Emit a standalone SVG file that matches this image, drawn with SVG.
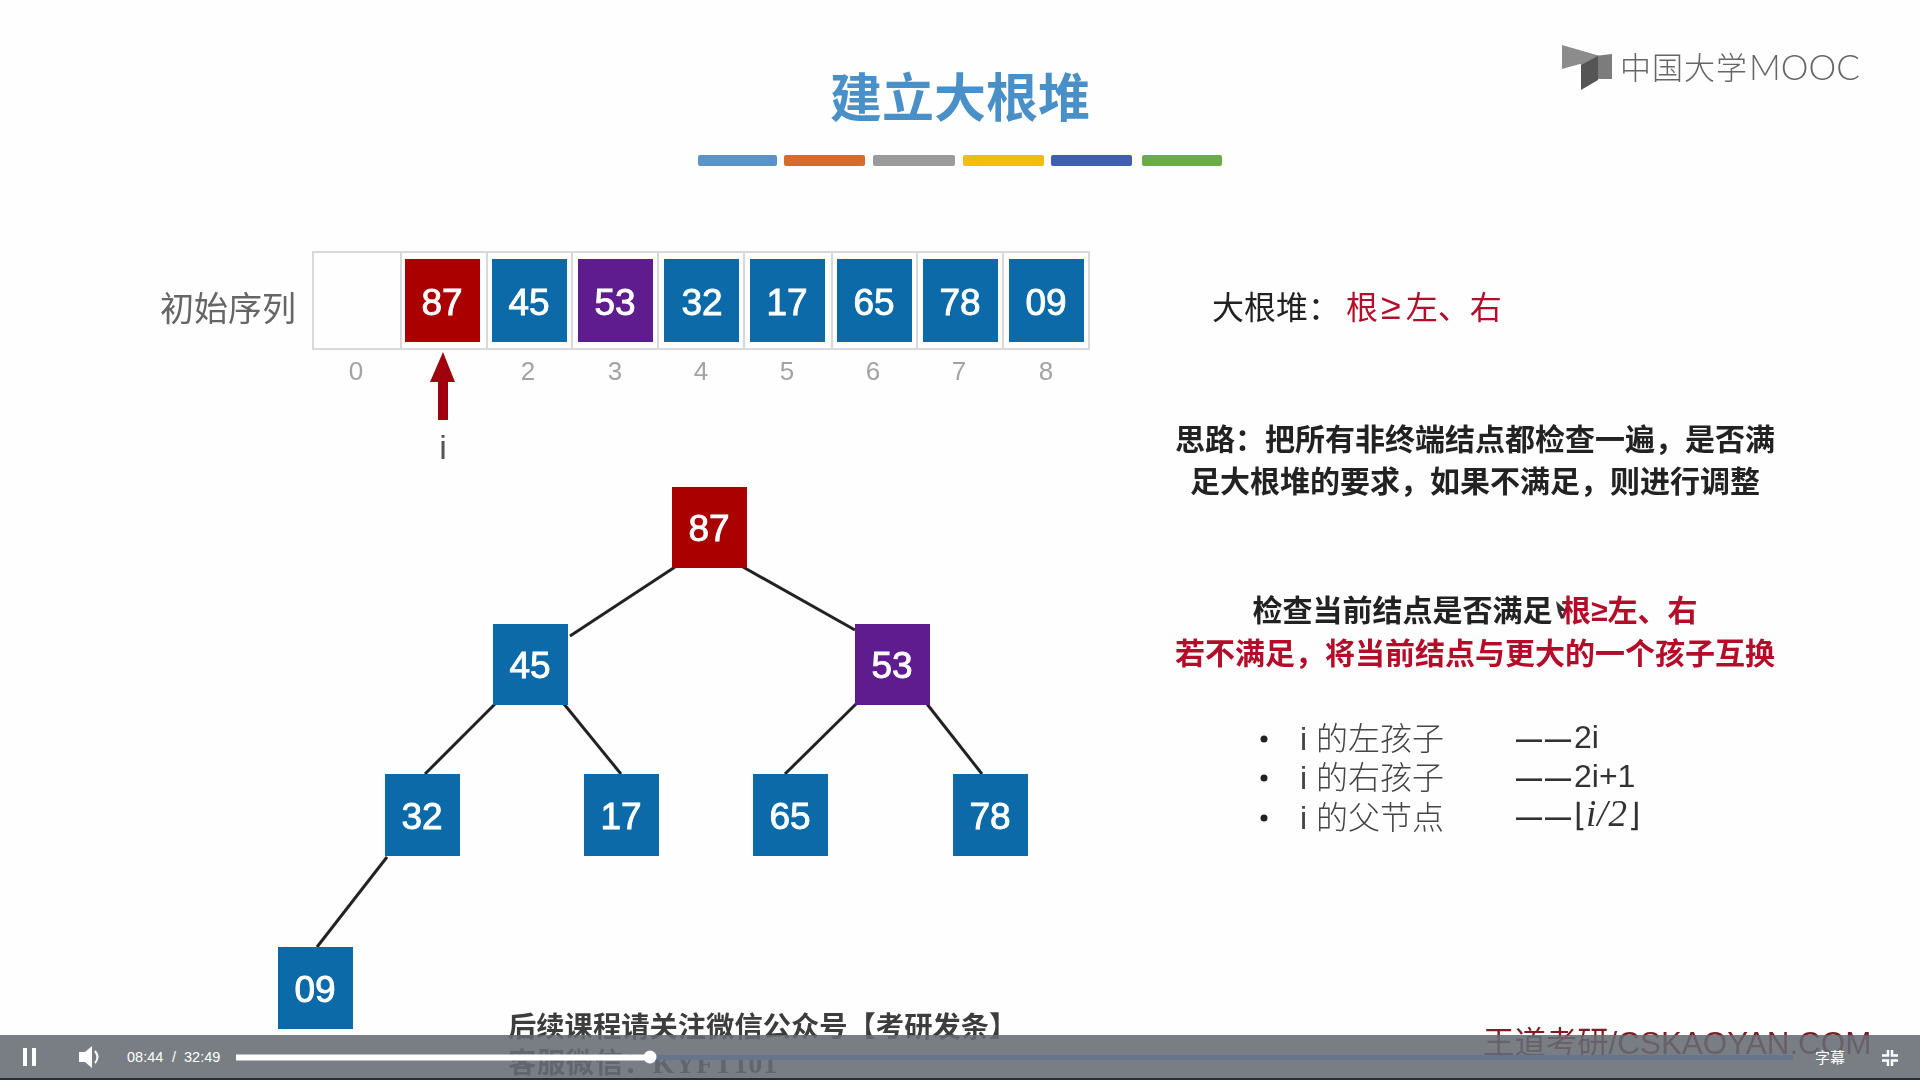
<svg xmlns="http://www.w3.org/2000/svg" width="1920" height="1080" viewBox="0 0 1920 1080">
<style>
text{font-family:"Liberation Sans","Noto Sans CJK SC",sans-serif}
.cjk{font-family:"Noto Sans CJK SC",sans-serif}
.n{fill:#fff;font-size:37px;text-anchor:middle;dominant-baseline:central;stroke:#fff;stroke-width:.9}
.red{fill:#ab0000}.blue{fill:#0a6aa8}.purple{fill:#5f1c8e}
.cell{fill:none;stroke:#d9d9d9;stroke-width:2}
.idx{fill:#a3a3a3;font-size:26px;text-anchor:middle}
.edge{stroke:#222;stroke-width:3;fill:none}
.b{font-size:30px;font-weight:700;text-anchor:middle;fill:#222}
.rt{fill:#b3102a}
.li{font-size:32px;fill:#444;font-weight:300}
.f{font-size:32px;fill:#333;font-weight:400}
.d{font-size:26px;letter-spacing:3px;font-weight:700}
.ft{font-family:"Liberation Serif","Noto Sans CJK SC",serif;fill:#3c3c3c;font-size:28.300px;font-weight:700}
</style>
<defs><filter id="soft" x="0" y="0" width="100%" height="100%"><feGaussianBlur stdDeviation="0.6"/></filter></defs>
<rect width="1920" height="1080" fill="#fefefe"/>
<g id="slide" filter="url(#soft)">
<g id="header">
<text class="cjk" x="960" y="117" font-size="52" font-weight="700" text-anchor="middle" fill="#4a90c8">建立大根堆</text>
<rect x="698" y="155" width="79" height="11" rx="2" fill="#5b93c7"/>
<rect x="784" y="155" width="81" height="11" rx="2" fill="#d96a2c"/>
<rect x="873" y="155" width="82" height="11" rx="2" fill="#9b9b9b"/>
<rect x="963" y="155" width="81" height="11" rx="2" fill="#f2bd0c"/>
<rect x="1051" y="155" width="81" height="11" rx="2" fill="#3f5fae"/>
<rect x="1142" y="155" width="80" height="11" rx="2" fill="#6aad46"/>
</g>
<g id="logo">
<polygon points="1562,45 1600,56 1600,74 1580,64 1562,69" fill="#8c8c8c"/>
<polygon points="1595,56 1612,54 1612,79 1595,79" fill="#7c7c7c"/>
<polygon points="1581,65 1598,56 1598,80 1581,90" fill="#555"/>
<text class="cjk" x="1620" y="79" font-size="31" font-weight="300" fill="#666" letter-spacing="1">中国大学</text>
<text x="1749" y="80" font-size="35" font-weight="300" fill="#666" style="font-family:Lato,sans-serif">MOOC</text>
</g>
<g id="array">
<text class="cjk" x="160" y="321" font-size="34" fill="#666">初始序列</text>
<rect class="cell" x="313" y="252" width="776" height="97"/>
<path class="cell" d="M401 252V349M487 252V349M572 252V349M658 252V349M744 252V349M832 252V349M917 252V349M1003 252V349"/>
<g id="a1"><rect class="red" x="405" y="259" width="75" height="83"/><text class="n" x="442" y="302">87</text></g>
<g id="a2"><rect class="blue" x="492" y="259" width="75" height="83"/><text class="n" x="529" y="302">45</text></g>
<g id="a3"><rect class="purple" x="578" y="259" width="75" height="83"/><text class="n" x="615" y="302">53</text></g>
<g id="a4"><rect class="blue" x="664" y="259" width="75" height="83"/><text class="n" x="702" y="302">32</text></g>
<g id="a5"><rect class="blue" x="750" y="259" width="75" height="83"/><text class="n" x="787" y="302">17</text></g>
<g id="a6"><rect class="blue" x="837" y="259" width="75" height="83"/><text class="n" x="874" y="302">65</text></g>
<g id="a7"><rect class="blue" x="923" y="259" width="75" height="83"/><text class="n" x="960" y="302">78</text></g>
<g id="a8"><rect class="blue" x="1009" y="259" width="75" height="83"/><text class="n" x="1046" y="302">09</text></g>
<text class="idx" x="356" y="380">0</text>
<text class="idx" x="528" y="380">2</text>
<text class="idx" x="615" y="380">3</text>
<text class="idx" x="701" y="380">4</text>
<text class="idx" x="787" y="380">5</text>
<text class="idx" x="873" y="380">6</text>
<text class="idx" x="959" y="380">7</text>
<text class="idx" x="1046" y="380">8</text>
</g>
<g id="pointer">
<polygon points="443,352 455,382 448,382 448,420 438,420 438,382 430,382" fill="#a00010"/>
<text x="443" y="459" font-size="34" fill="#555" text-anchor="middle">i</text>
</g>
<g id="connectors">
<line class="edge" x1="675" y1="567" x2="570" y2="636"/>
<line class="edge" x1="743" y1="567" x2="855" y2="630"/>
<line class="edge" x1="495" y1="704" x2="425" y2="774"/>
<line class="edge" x1="564" y1="704" x2="621" y2="774"/>
<line class="edge" x1="856" y1="704" x2="785" y2="774"/>
<line class="edge" x1="927" y1="704" x2="982" y2="774"/>
<line class="edge" x1="387" y1="857" x2="317" y2="947"/>
</g>
<g id="n87"><rect class="red" x="672" y="487" width="75" height="81"/><text class="n" x="709" y="528">87</text></g>
<g id="n45"><rect class="blue" x="493" y="624" width="75" height="81"/><text class="n" x="530" y="665">45</text></g>
<g id="n53"><rect class="purple" x="855" y="624" width="75" height="81"/><text class="n" x="892" y="665">53</text></g>
<g id="n32"><rect class="blue" x="385" y="774" width="75" height="82"/><text class="n" x="422" y="816">32</text></g>
<g id="n17"><rect class="blue" x="584" y="774" width="75" height="82"/><text class="n" x="621" y="816">17</text></g>
<g id="n65"><rect class="blue" x="753" y="774" width="75" height="82"/><text class="n" x="790" y="816">65</text></g>
<g id="n78"><rect class="blue" x="953" y="774" width="75" height="82"/><text class="n" x="990" y="816">78</text></g>
<g id="n09"><rect class="blue" x="278" y="947" width="75" height="82"/><text class="n" x="315" y="989">09</text></g>
<g id="notes">
<text class="cjk" x="1212" y="319" font-size="32" fill="#222">大根堆：</text>
<text x="1346" y="319" font-size="32" class="rt">根<tspan style="font-family:'Liberation Sans',sans-serif" font-size="36" dx="3">≥</tspan><tspan dx="5">左、右</tspan></text>
<text class="b" x="1475" y="450">思路：把所有非终端结点都检查一遍，是否满</text>
<text class="b" x="1475" y="492">足大根堆的要求，如果不满足，则进行调整</text>
<text class="b" x="1475" y="621">检查当前结点是否满足 <tspan class="rt">根≥左、右</tspan></text>
<text class="b" x="1475" y="664" style="fill:#b3102a">若不满足，将当前结点与更大的一个孩子互换</text>
<polygon points="1556,601 1567,611 1561,611 1564,618 1561,619 1558,612" fill="#333"/>
<circle cx="1264" cy="739" r="3.500" fill="#222"/>
<circle cx="1264" cy="778" r="3.500" fill="#222"/>
<circle cx="1264" cy="818" r="3.500" fill="#222"/>
<text class="li" x="1300" y="750">i 的左孩子</text>
<text class="li" x="1300" y="789">i 的右孩子</text>
<text class="li" x="1300" y="829">i 的父节点</text>
<text class="f" x="1516" y="748"><tspan class="d">——</tspan><tspan x="1574">2i</tspan></text>
<text class="f" x="1516" y="787"><tspan class="d">——</tspan><tspan x="1574">2i+1</tspan></text>
<text class="f" x="1516" y="826"><tspan class="d">——</tspan><tspan x="1574">⌊</tspan><tspan style="font-family:'Liberation Serif',serif" font-style="italic" font-size="37" letter-spacing="1">i/2</tspan>⌋</text>
</g>
<g id="watermarks">
<text class="ft" x="508" y="1037">后续课程请关注微信公众号【考研发条】</text>
<text class="ft" x="508" y="1073" letter-spacing=".6">客服微信：KYFT101</text>
<text x="1483" y="1054" font-size="31.400" fill="#7d1f24">王道考研/CSKAOYAN.COM</text>
</g>
</g>
<g id="player">
<rect y="1035" width="1920" height="45" fill="#666b73" fill-opacity=".88"/>
<rect y="1078" width="1920" height="2" fill="#2a2d33"/>
<rect x="236" y="1055" width="1557" height="5" fill="#66758c"/>
<rect x="236" y="1054.500" width="414" height="6" fill="#fff"/>
<circle cx="650" cy="1057" r="6.500" fill="#fff"/>
<rect x="23" y="1048" width="4" height="18" fill="#fff"/>
<rect x="32" y="1048" width="4" height="18" fill="#fff"/>
<path d="M79 1052H85L92 1046V1068L85 1062H79Z" fill="#fff"/>
<path d="M95 1051Q100 1057 95 1063" fill="none" stroke="#fff" stroke-width="2"/>
<text x="127" y="1062" font-size="14.500" fill="#fff">08:44</text>
<text x="172" y="1062" font-size="14.500" fill="#fff">/</text>
<text x="184" y="1062" font-size="14.500" fill="#fff">32:49</text>
<text class="cjk" x="1815" y="1063" font-size="15" fill="#fff">字幕</text>
<path d="M1888 1050V1055.500H1882M1892 1050V1055.500H1898M1888 1066V1060.500H1882M1892 1066V1060.500H1898" fill="none" stroke="#fff" stroke-width="2.500"/>
</g>
</svg>
